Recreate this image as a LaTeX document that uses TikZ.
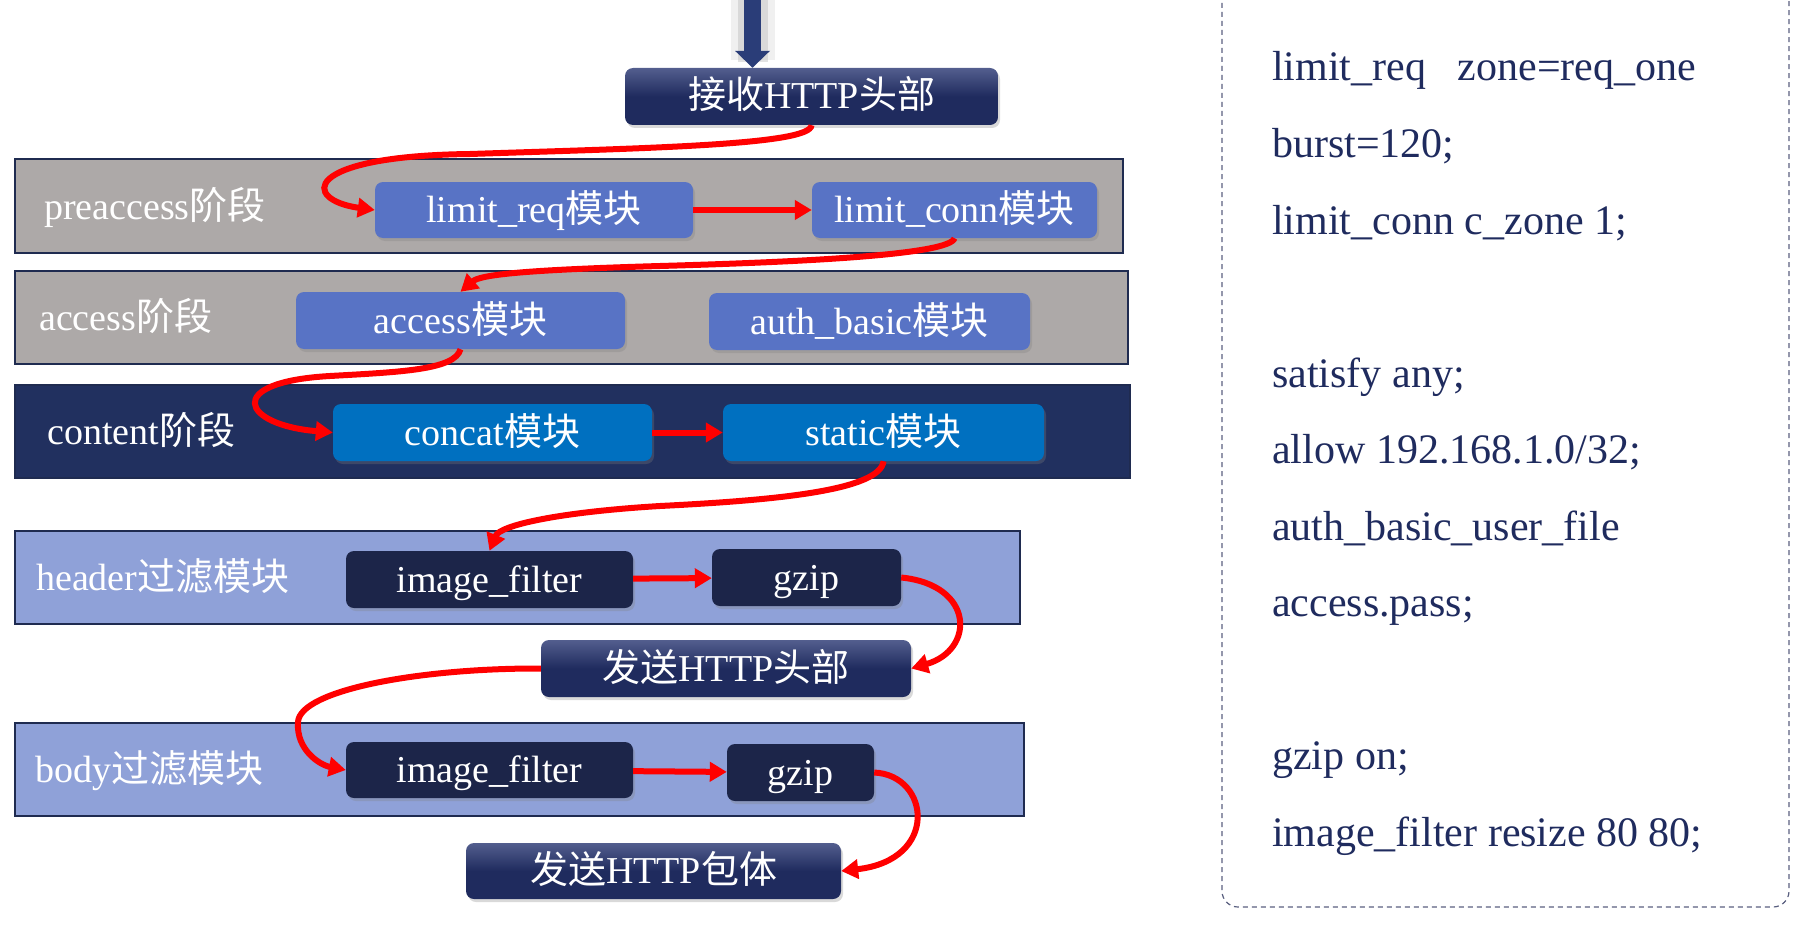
\documentclass[tikz,border=0pt]{standalone}
\usepackage{fontspec}
\setmainfont{Liberation Serif}
\newfontfamily\cjk{Noto Sans CJK SC}
\usetikzlibrary{arrows.meta,shadows}

\definecolor{navy}{HTML}{1F2B5E}
\definecolor{navylight}{HTML}{535E8E}
\definecolor{shaftnavy}{HTML}{2A3D78}
\definecolor{bandgray}{HTML}{ADA9A8}
\definecolor{bandnavy}{HTML}{21305F}
\definecolor{bandblue}{HTML}{8FA1D8}
\definecolor{modblue}{HTML}{5873C5}
\definecolor{modcyan}{HTML}{0070C0}
\definecolor{moddark}{HTML}{1C2549}
\definecolor{edgenavy}{HTML}{1F2B50}
\definecolor{dashgray}{HTML}{5A6080}

\begin{document}
\begin{tikzpicture}[x=1pt,y=-1pt,
    band/.style={draw=edgenavy,line width=2pt,inner sep=0pt},
    lbl/.style={anchor=west,inner sep=0pt,text=white,text height=34pt,text depth=9pt,
        font={\fontsize{38}{44}\selectfont}},
    mod/.style={rounded corners=8pt,text=white,inner sep=0pt,text height=34pt,text depth=9pt,
        font={\fontsize{38}{44}\selectfont},
        drop shadow={shadow xshift=2pt,shadow yshift=-3pt,opacity=.3}},
    http/.style={mod,top color=navylight,bottom color=navy,middle color=navy},
    flow/.style={red,line width=6pt,-{Triangle[width=19pt,length=17pt]}},
    code/.style={anchor=base west,inner sep=0pt,text=navy,font={\fontsize{42}{50}\selectfont}}]
    \useasboundingbox (0,0) rectangle (1811,931);

    % stages
    \node[band,fill=bandgray,minimum width=1108pt,minimum height=94pt] (pre) at (569,206) {};
    \node[band,fill=bandgray,minimum width=1113pt,minimum height=93pt] (acc) at (571.5,317.5) {};
    \node[band,fill=bandnavy,minimum width=1115pt,minimum height=93pt] (con) at (572.5,431.5) {};
    \node[band,fill=bandblue,minimum width=1005pt,minimum height=93pt] (hdr) at (517.5,577.5) {};
    \node[band,fill=bandblue,minimum width=1009pt,minimum height=93pt] (bdy) at (519.5,769.5) {};

    \node[lbl] (prelbl) at (44,206.5) {preaccess{\cjk 阶段}};
    \node[lbl] (acclbl) at (39,318) {access{\cjk 阶段}};
    \node[lbl] (conlbl) at (47,432) {content{\cjk 阶段}};
    \node[lbl] (hdrlbl) at (36,578) {header{\cjk 过滤模块}};
    \node[lbl] (bdylbl) at (35,770) {body{\cjk 过滤模块}};

    % modules
    \node[http,minimum width=373pt,minimum height=57pt] (recv) at (811.5,96.5) {{\cjk 接收}HTTP{\cjk 头部}};
    \node[mod,fill=modblue,minimum width=318pt,minimum height=56pt] (lreq) at (534,210) {limit\_req{\cjk 模块}};
    \node[mod,fill=modblue,minimum width=285pt,minimum height=56pt] (lconn) at (954.5,210) {limit\_conn{\cjk 模块}};
    \node[mod,fill=modblue,minimum width=329pt,minimum height=57pt] (accm) at (460.5,320.5) {access{\cjk 模块}};
    \node[mod,fill=modblue,minimum width=321pt,minimum height=57pt] (auth) at (869.5,321.5) {auth\_basic{\cjk 模块}};
    \node[mod,fill=modcyan,minimum width=319pt,minimum height=57pt] (concat) at (492.5,432.5) {concat{\cjk 模块}};
    \node[mod,fill=modcyan,minimum width=321pt,minimum height=57pt] (static) at (883.5,432.5) {static{\cjk 模块}};
    \node[mod,fill=moddark,minimum width=287pt,minimum height=57pt] (hif) at (489.5,579.5) {image\_filter};
    \node[mod,fill=moddark,minimum width=189pt,minimum height=57pt] (hgz) at (806.5,577.5) {gzip};
    \node[http,minimum width=370pt,minimum height=57pt] (sendh) at (726,668.5) {{\cjk 发送}HTTP{\cjk 头部}};
    \node[mod,fill=moddark,minimum width=287pt,minimum height=56pt] (bif) at (489.5,770) {image\_filter};
    \node[mod,fill=moddark,minimum width=147pt,minimum height=57pt] (bgz) at (800.5,772.5) {gzip};
    \node[http,minimum width=375pt,minimum height=56pt] (sendb) at (653.5,871) {{\cjk 发送}HTTP{\cjk 包体}};

    % incoming request
    \coordinate (src) at (752.5,0);
    \draw[gray!40,line width=44pt,opacity=.3] (src) -- ([yshift=8pt]src |- recv.north);
    \draw[gray!50,line width=30pt,opacity=.45] (src) -- ([yshift=6pt]src |- recv.north);
    \draw[shaftnavy,line width=17pt,-{Triangle[width=34pt,length=17pt]}] (src) -- (src |- recv.north);

    % request flow
    \draw[flow] (recv.south) .. controls (811,145) and (650,148) .. (470,154) .. controls (300,156) and (302,200) .. (lreq.west);
    \path (lreq) edge[flow] (lconn);
    \draw[flow] (lconn.south) .. controls (950,255) and (800,262) .. (660,266) .. controls (520,270) and (480,275) .. (accm.north);
    \draw[flow] (accm.south) .. controls (455,370) and (400,372) .. (330,376) .. controls (222,382) and (242,425) .. (concat.west);
    \path (concat) edge[flow] (static);
    \draw[flow] (static.south) .. controls (880,490) and (780,500) .. (660,506) .. controls (560,512) and (500,525) .. (hif.north);
    \path (hif) edge[flow] (hgz);
    \draw[flow] (hgz.east) .. controls (975,585) and (975,650) .. (sendh.east);
    \draw[flow] (sendh.west) .. controls (420,668) and (300,690) .. (298,722) .. controls (296,750) and (320,765) .. (bif.west);
    \path (bif) edge[flow] (bgz);
    \draw[flow] (bgz.east) .. controls (930,775) and (940,860) .. (sendb.east);

    % config panel
    \draw[dashgray,line width=1.2pt,dash pattern=on 5pt off 4pt,rounded corners=16pt] (1222,-40) rectangle (1789,907);
    \foreach \i/\t in {0/{limit\_req\ \ \ zone=req\_one},1/{burst=120;},2/{limit\_conn c\_zone 1;},
        4/{satisfy any;},5/{allow 192.168.1.0/32;},6/{auth\_basic\_user\_file},7/{access.pass;},
        9/{gzip on;},10/{image\_filter resize 80 80;}}
        \node[code] (line\i) at (1272,{81+76.5*\i}) {\t};
\end{tikzpicture}
\end{document}
